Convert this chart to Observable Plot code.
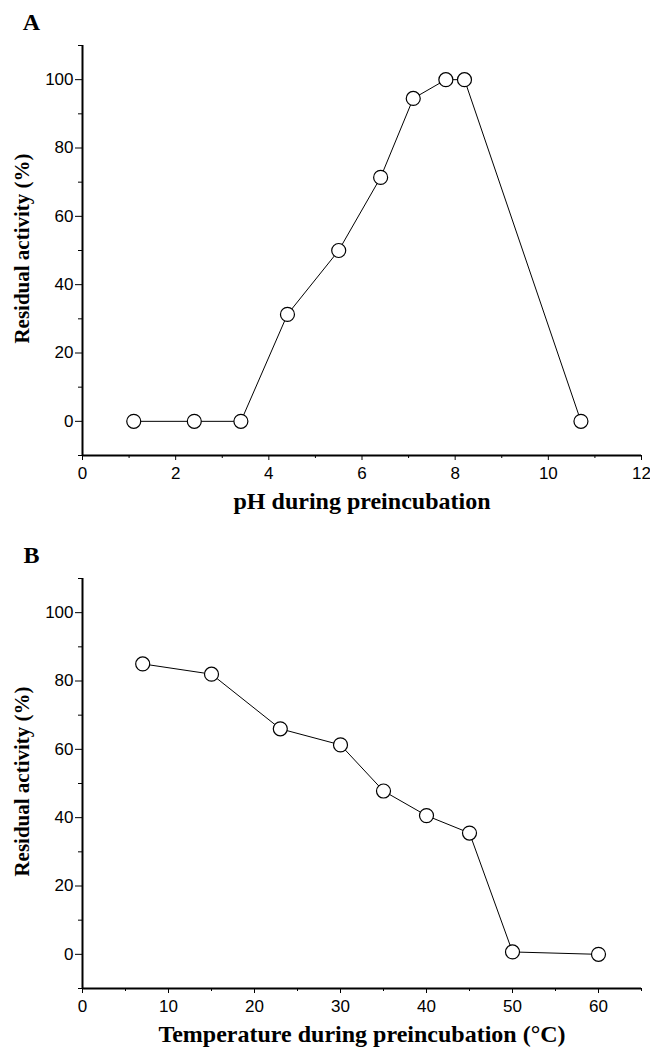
<!DOCTYPE html>
<html>
<head>
<meta charset="utf-8">
<script src="https://cdn.jsdelivr.net/npm/d3@7"></script>
<script src="https://cdn.jsdelivr.net/npm/@observablehq/plot@0.6"></script>
<style>
  html, body { margin: 0; padding: 0; background: #fff; }
  #wrap { position: relative; width: 650px; height: 1049px; }
  .panel { position: absolute; left: 0; }
  #wrap svg g[aria-label="y-axis tick label"],
  #wrap svg g[aria-label="x-axis tick label"] {
    font-size: 17px !important;
    font-family: "Liberation Sans", Arial, sans-serif !important;
  }
</style>
</head>
<body>
<div id="wrap">
  <div id="panelA" class="panel" style="top:0px"></div>
  <div id="panelB" class="panel" style="top:533px"></div>
</div>
<script>
// Panel A: pH stability
const phValues = [1.1, 2.4, 3.4, 4.4, 5.5, 6.4, 7.1, 7.8, 8.2, 10.7];
const phActivity = [0, 0, 0, 31.3, 50, 71.4, 94.5, 100, 100, 0];
const phTicks = [0, 2, 4, 6, 8, 10, 12];
const phMinorTicks = [1, 3, 5, 7, 9, 11];

// Panel B: temperature stability
const tempValues = [7, 15, 23, 30, 35, 40, 45, 50, 60];
const tempActivity = [85, 82, 66, 61.3, 47.8, 40.6, 35.5, 0.7, 0];
const tempTicks = [0, 10, 20, 30, 40, 50, 60];
const tempMinorTicks = [5, 15, 25, 35, 45, 55, 65];

// Shared y axis
const yTicks = [0, 20, 40, 60, 80, 100];
const yMinorTicks = [-10, 10, 30, 50, 70, 90, 110];

const yLabel = "Residual activity (%)";
const xLabelA = "pH during preincubation";
const xLabelB = "Temperature during preincubation (°C)";

function panel({xs, ys, xDomain, xTicks, xMinor, letter, xLabel, height, marginBottom}) {
  const data = xs.map((x, i) => ({x, y: ys[i]}));
  const serif = "Liberation Serif, Times New Roman, serif";
  const sans = "Liberation Sans, Arial, sans-serif";
  return Plot.plot({
    width: 650,
    height,
    marginLeft: 82,
    marginRight: 9,
    marginTop: 45,
    marginBottom,
    style: {fontFamily: sans, fontSize: "17px", color: "black", background: "white"},
    x: {domain: xDomain},
    y: {domain: [-10, 110]},
    marks: [
      Plot.axisY(yTicks, {tickSize: 7, tickPadding: 2, label: null, fontSize: 17, fontFamily: sans}),
      Plot.axisY(yMinorTicks, {tickSize: 4, fill: "none", label: null}),
      Plot.axisX(xTicks, {tickSize: 5, tickPadding: 6, label: null, fontSize: 17, fontFamily: sans}),
      Plot.axisX(xMinor, {tickSize: 3, fill: "none", label: null}),
      Plot.ruleX([xDomain[0]], {stroke: "black", strokeWidth: 2}),
      Plot.ruleY([-10], {stroke: "black", strokeWidth: 2}),
      Plot.line(data, {x: "x", y: "y", stroke: "black", strokeWidth: 1}),
      Plot.dot(data, {x: "x", y: "y", r: 7, fill: "white", stroke: "black", strokeWidth: 1.2}),
      Plot.text([yLabel], {frameAnchor: "left", rotate: -90, dx: -60, dy: -2, textAnchor: "middle", lineAnchor: "middle", fontFamily: serif, fontWeight: "bold", fontSize: 21, fill: "black"}),
      Plot.text([xLabel], {frameAnchor: "bottom", dy: 46, textAnchor: "middle", lineAnchor: "middle", fontFamily: serif, fontWeight: "bold", fontSize: 24, fill: "black"}),
      Plot.text([letter], {frameAnchor: "top-left", dx: -51, dy: -23, textAnchor: "middle", lineAnchor: "middle", fontFamily: serif, fontWeight: "bold", fontSize: 24, fill: "black"})
    ]
  });
}

document.getElementById("panelA").append(panel({
  xs: phValues, ys: phActivity, xDomain: [0, 12], xTicks: phTicks, xMinor: phMinorTicks,
  letter: "A", xLabel: xLabelA, height: 520, marginBottom: 65
}));
document.getElementById("panelB").append(panel({
  xs: tempValues, ys: tempActivity, xDomain: [0, 65], xTicks: tempTicks, xMinor: tempMinorTicks,
  letter: "B", xLabel: xLabelB, height: 516, marginBottom: 61
}));
</script>
</body>
</html>
